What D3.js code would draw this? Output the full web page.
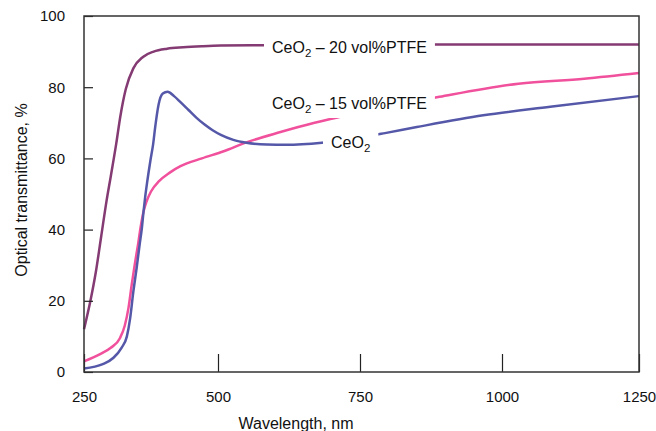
<!DOCTYPE html>
<html>
<head>
<meta charset="utf-8">
<script src="https://cdn.jsdelivr.net/npm/d3@7"></script>
<style>
  body { margin: 0; background: #fff; }
  text { font-family: "Liberation Sans", Arial, sans-serif; fill: #111; }
</style>
</head>
<body>
<div id="chart"></div>
<script>
// wavelength (nm) / transmittance (%)
var ptfe20 = [[250, 12], [262, 20], [272, 28], [282, 38], [292, 48], [300, 55], [310, 64], [318, 72],
    [328, 79.5], [342, 85.3], [360, 88.5], [380, 90], [405, 90.8], [435, 91.2], [470, 91.5], [505, 91.7],
    [580, 91.8], [700, 91.9], [880, 92], [1050, 92], [1250, 92]];

var ptfe15 = [[250, 3], [280, 5], [300, 6.8], [317, 9.5], [326, 13], [333, 18], [339, 24.5], [345, 30.5],
    [351, 36], [356, 41], [361, 45], [367, 48], [375, 50.7], [390, 53.6], [410, 56], [430, 57.8],
    [470, 60], [510, 62], [550, 64.5], [610, 67.4], [670, 70], [710, 71.5], [800, 74.5], [890, 77.3],
    [1030, 81], [1150, 82.4], [1250, 84]];

var ceo2 = [[250, 1], [285, 2.2], [305, 4], [320, 6.8], [330, 10], [336, 15], [342, 22.5], [348, 29],
    [354, 36], [358, 40.5], [361, 45], [364, 49], [368, 53.5], [374, 59.5], [379, 64], [383, 69],
    [389, 75], [397, 78.2], [406, 78.7], [418, 77.5], [430, 75.8], [445, 73.6], [460, 71.4],
    [475, 69.5], [490, 67.9], [505, 66.6], [527, 65.2], [550, 64.4], [586, 63.9], [620, 63.8],
    [683, 64.4], [740, 65.6], [794, 67.1], [850, 68.8], [967, 72.1], [1088, 74.5], [1250, 77.5]];

var xTicks = [250, 500, 750, 1000, 1250];
var yTicks = [0, 20, 40, 60, 80, 100];

var series = [
    {name: "20", data: ptfe20, color: "#843a72", label: [272, 53, " – 20 vol%PTFE"]},
    {name: "15", data: ptfe15, color: "#f0509c", label: [272, 109, " – 15 vol%PTFE"]},
    {name: "0", data: ceo2, color: "#5558a8", label: [331, 148, ""]}
];

var W = 656, H = 431;
var pLeft = 84, pRight = 639, pTop = 16, pBottom = 372;

var svg = d3.select("#chart").append("svg")
    .attr("width", W)
    .attr("height", H);

// the printed axis is slightly uneven, so a piecewise scale
var x = d3.scaleLinear()
    .domain([250, 500, 1000, 1250])
    .range([pLeft, 218, 502, pRight]);

var y = d3.scaleLinear()
    .domain([0, 100])
    .range([pBottom, pTop]);

var line = d3.line()
    .x(function (d) { return x(d[0]); })
    .y(function (d) { return y(d[1]); })
    .curve(d3.curveMonotoneX);

svg.append("g")
    .selectAll("path")
    .data(series)
    .enter().append("path")
    .attr("d", function (d) { return line(d.data); })
    .attr("fill", "none")
    .attr("stroke", function (d) { return d.color; })
    .attr("stroke-width", 2.5)
    .attr("stroke-linejoin", "round");

// curve labels, each on a white patch that hides the line under it
series.forEach(function (s) {
    var g = svg.append("g");
    var t = g.append("text")
        .attr("x", s.label[0])
        .attr("y", s.label[1])
        .style("font-size", "16px");
    t.append("tspan").text("CeO");
    t.append("tspan").text("2").attr("dy", 4).style("font-size", "11.5px");
    t.append("tspan").text(s.label[2]).attr("dy", -4);
    var b = t.node().getBBox();
    g.insert("rect", "text")
        .attr("x", b.x - 8)
        .attr("y", b.y - 3)
        .attr("width", b.width + 16)
        .attr("height", b.height + 6)
        .attr("fill", "#fff");
});

// x axis, ticks pointing inward
var xAxis = svg.append("g")
    .attr("transform", "translate(0," + pBottom + ")")
    .call(d3.axisBottom(x).tickValues(xTicks).tickFormat(d3.format("d"))
        .tickSize(-18).tickPadding(19).tickSizeOuter(0));

var yAxis = svg.append("g")
    .attr("transform", "translate(" + pLeft + ",0)")
    .call(d3.axisLeft(y).tickValues(yTicks).tickFormat(d3.format("d"))
        .tickSize(-9).tickPadding(19).tickSizeOuter(0));

svg.selectAll(".domain").remove();
svg.selectAll(".tick line").attr("stroke", "#222").attr("stroke-width", 1.2);
svg.selectAll(".tick text")
    .attr("fill", "#111")
    .attr("font-family", null)
    .style("font-size", "15px");

// frame
svg.append("rect")
    .attr("x", pLeft)
    .attr("y", pTop)
    .attr("width", pRight - pLeft)
    .attr("height", pBottom - pTop)
    .attr("fill", "none")
    .attr("stroke", "#333")
    .attr("stroke-width", 1.5);

svg.append("text")
    .attr("x", 296)
    .attr("y", 429)
    .attr("text-anchor", "middle")
    .style("font-size", "16px")
    .text("Wavelength,  nm");

svg.append("text")
    .attr("transform", "translate(27,190) rotate(-90)")
    .attr("text-anchor", "middle")
    .style("font-size", "16px")
    .text("Optical transmittance, %");
</script>
</body>
</html>
